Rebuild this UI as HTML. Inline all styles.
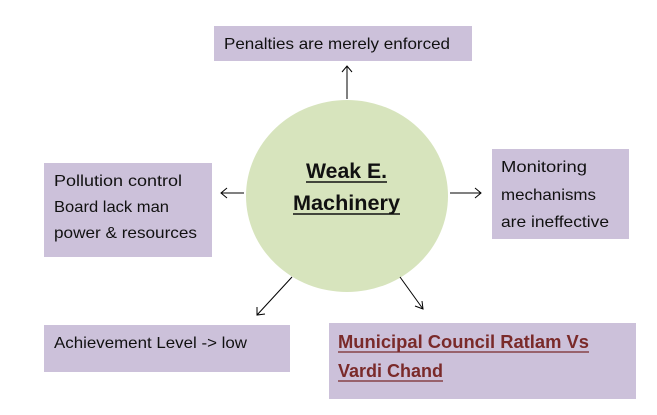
<!DOCTYPE html>
<html><head><meta charset="utf-8"><style>html,body{margin:0;padding:0;background:#fff}svg{display:block}</style></head>
<body>
<svg width="657" height="415" viewBox="0 0 657 415" xmlns="http://www.w3.org/2000/svg" font-family="Liberation Sans, sans-serif">
<rect x="214" y="26" width="258" height="35" fill="#ccc1da"/>
<rect x="44" y="163" width="168" height="94" fill="#ccc1da"/>
<rect x="492" y="149" width="137" height="90" fill="#ccc1da"/>
<rect x="44" y="325" width="246" height="47" fill="#ccc1da"/>
<rect x="329" y="323" width="307" height="76" fill="#ccc1da"/>
<ellipse cx="347" cy="196" rx="101" ry="96" fill="#d7e4bd"/>
<g stroke="#000" stroke-width="1" fill="none">
<line x1="347" y1="99" x2="347" y2="66"/><polyline points="342,72 347,66 352,72"/>
<line x1="244" y1="193" x2="221" y2="193"/><polyline points="227,188 221,193 227,198"/>
<line x1="450" y1="193" x2="481" y2="193"/><polyline points="475,188 481,193 475,198"/>
<line x1="292" y1="277" x2="257" y2="315"/><polyline points="257,307 257,315 265,314"/>
<line x1="400" y1="277" x2="423" y2="309"/><polyline points="415,306 423,309 422,301"/>
</g>
<g font-size="16" fill="#111">
<text x="224" y="49" textLength="226" lengthAdjust="spacingAndGlyphs">Penalties are merely enforced</text>
<text x="54" y="186" textLength="128" lengthAdjust="spacingAndGlyphs">Pollution control</text>
<text x="54" y="212" textLength="115" lengthAdjust="spacingAndGlyphs">Board lack man</text>
<text x="54" y="238" textLength="143" lengthAdjust="spacingAndGlyphs">power &amp; resources</text>
<text x="501" y="172" textLength="86" lengthAdjust="spacingAndGlyphs">Monitoring</text>
<text x="501" y="200" textLength="95" lengthAdjust="spacingAndGlyphs">mechanisms</text>
<text x="501" y="227" textLength="108" lengthAdjust="spacingAndGlyphs">are ineffective</text>
<text x="54" y="348" textLength="193" lengthAdjust="spacingAndGlyphs">Achievement Level -&gt; low</text>
</g>
<g font-size="18" font-weight="bold" fill="#7a2a2a">
<text x="338" y="348" textLength="251" lengthAdjust="spacingAndGlyphs">Municipal Council Ratlam Vs</text>
<text x="338" y="377" textLength="105" lengthAdjust="spacingAndGlyphs">Vardi Chand</text>
</g>
<g stroke="#7a2a2a" stroke-width="1.3"><line x1="338" y1="352" x2="589" y2="352"/><line x1="338" y1="381" x2="443" y2="381"/></g>
<g font-size="21" font-weight="bold" fill="#111">
<text x="306" y="178" textLength="81" lengthAdjust="spacingAndGlyphs">Weak E.</text>
<text x="293" y="210" textLength="107" lengthAdjust="spacingAndGlyphs">Machinery</text>
</g>
<g stroke="#111" stroke-width="1.5"><line x1="306" y1="182" x2="387" y2="182"/><line x1="293" y1="214" x2="400" y2="214"/></g>
</svg>
</body></html>
